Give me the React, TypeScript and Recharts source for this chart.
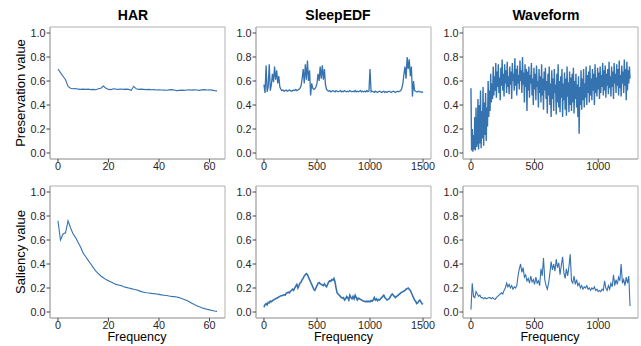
import React from 'react';
import { LineChart, Line, XAxis, YAxis, ReferenceArea } from 'recharts';

// HAR: one value per frequency bin (0..63)
const harPreservation = [
  0.70, 0.67, 0.64, 0.61, 0.555, 0.54, 0.535, 0.538, 0.532, 0.53,
  0.532, 0.53, 0.532, 0.528, 0.53, 0.527, 0.535, 0.54, 0.558, 0.54,
  0.53, 0.528, 0.535, 0.532, 0.53, 0.533, 0.53, 0.532, 0.53, 0.522,
  0.556, 0.535, 0.53, 0.532, 0.53, 0.528, 0.53, 0.527, 0.528, 0.525,
  0.527, 0.525, 0.524, 0.523, 0.526, 0.528, 0.525, 0.52, 0.522, 0.524,
  0.522, 0.525, 0.527, 0.524, 0.526, 0.525, 0.522, 0.526, 0.528, 0.525,
  0.527, 0.524, 0.52, 0.518,
];
const harSaliency = [
  0.76, 0.60, 0.65, 0.66, 0.76, 0.70, 0.65, 0.62, 0.58, 0.54,
  0.49, 0.46, 0.43, 0.40, 0.37, 0.34, 0.32, 0.30, 0.285, 0.27,
  0.26, 0.25, 0.24, 0.23, 0.225, 0.22, 0.21, 0.205, 0.20, 0.195,
  0.19, 0.185, 0.178, 0.17, 0.165, 0.16, 0.158, 0.155, 0.153, 0.15,
  0.147, 0.143, 0.14, 0.137, 0.133, 0.13, 0.128, 0.125, 0.12, 0.113,
  0.105, 0.095, 0.085, 0.073, 0.062, 0.052, 0.043, 0.035, 0.028, 0.023,
  0.018, 0.013, 0.008, 0.005,
];

// SleepEDF: read every 10 frequency bins (0..1500)
const sleepPreservation = [
  0.57, 0.50, 0.73, 0.51, 0.55, 0.74, 0.52, 0.57, 0.66, 0.59,
  0.72, 0.61, 0.69, 0.58, 0.64, 0.55, 0.53, 0.52, 0.525, 0.515,
  0.52, 0.525, 0.515, 0.52, 0.525, 0.52, 0.515, 0.52, 0.525, 0.52,
  0.53, 0.52, 0.525, 0.53, 0.54, 0.56, 0.62, 0.70, 0.58, 0.74,
  0.61, 0.77, 0.60, 0.69, 0.48, 0.58, 0.54, 0.53, 0.535, 0.55,
  0.58, 0.66, 0.60, 0.72, 0.62, 0.73, 0.61, 0.70, 0.57, 0.53,
  0.52, 0.515, 0.52, 0.51, 0.515, 0.52, 0.515, 0.51, 0.52, 0.515,
  0.51, 0.515, 0.52, 0.51, 0.515, 0.51, 0.52, 0.515, 0.51, 0.515,
  0.51, 0.52, 0.515, 0.51, 0.515, 0.51, 0.52, 0.51, 0.515, 0.51,
  0.515, 0.52, 0.51, 0.515, 0.51, 0.515, 0.51, 0.52, 0.51, 0.515,
  0.70, 0.51, 0.515, 0.51, 0.505, 0.515, 0.51, 0.505, 0.51, 0.515,
  0.51, 0.505, 0.51, 0.515, 0.505, 0.51, 0.505, 0.51, 0.515, 0.51,
  0.505, 0.51, 0.515, 0.51, 0.505, 0.51, 0.515, 0.51, 0.515, 0.52,
  0.54, 0.58, 0.66, 0.72, 0.62, 0.80, 0.70, 0.78, 0.64, 0.72,
  0.47, 0.60, 0.52, 0.515, 0.51, 0.51, 0.515, 0.51, 0.51, 0.505,
  0.51,
];
const sleepSaliency = [
  0.04, 0.06, 0.07, 0.06, 0.08, 0.075, 0.09, 0.085, 0.095, 0.10,
  0.105, 0.11, 0.115, 0.12, 0.125, 0.13, 0.135, 0.135, 0.14, 0.145,
  0.14, 0.155, 0.16, 0.165, 0.16, 0.175, 0.18, 0.19, 0.18, 0.20,
  0.215, 0.23, 0.20, 0.22, 0.24, 0.25, 0.27, 0.28, 0.30, 0.31,
  0.32, 0.31, 0.29, 0.27, 0.25, 0.23, 0.21, 0.19, 0.18, 0.20,
  0.22, 0.24, 0.245, 0.235, 0.23, 0.225, 0.22, 0.235, 0.22, 0.21,
  0.23, 0.25, 0.26, 0.255, 0.27, 0.265, 0.28, 0.25, 0.20, 0.16,
  0.15, 0.14, 0.13, 0.12, 0.115, 0.12, 0.10, 0.11, 0.13, 0.12,
  0.10, 0.14, 0.12, 0.11, 0.13, 0.11, 0.14, 0.12, 0.10, 0.115,
  0.11, 0.105, 0.10, 0.095, 0.09, 0.09, 0.085, 0.09, 0.085, 0.09,
  0.085, 0.095, 0.09, 0.10, 0.12, 0.10, 0.11, 0.095, 0.105, 0.10,
  0.11, 0.12, 0.13, 0.14, 0.12, 0.11, 0.10, 0.105, 0.11, 0.125,
  0.14, 0.15, 0.14, 0.13, 0.12, 0.13, 0.135, 0.145, 0.15, 0.16,
  0.165, 0.17, 0.175, 0.18, 0.19, 0.195, 0.20, 0.19, 0.18, 0.16,
  0.14, 0.12, 0.10, 0.09, 0.07, 0.075, 0.09, 0.10, 0.085, 0.07,
  0.065,
];

// Waveform: preservation read every 5 bins, saliency every 10 (0..1250)
const wavePreservation = [
  0.54, 0.02, 0.20, 0.01, 0.15, 0.03, 0.30, 0.02, 0.38, 0.05,
  0.10, 0.45, 0.03, 0.40, 0.08, 0.52, 0.04, 0.35, 0.12, 0.55,
  0.06, 0.42, 0.15, 0.50, 0.10, 0.38, 0.22, 0.60, 0.30, 0.52,
  0.35, 0.66, 0.42, 0.58, 0.45, 0.72, 0.48, 0.64, 0.52, 0.75,
  0.46, 0.68, 0.55, 0.74, 0.50, 0.63, 0.44, 0.71, 0.56, 0.78,
  0.52, 0.66, 0.47, 0.74, 0.58, 0.69, 0.50, 0.76, 0.55, 0.64,
  0.49, 0.72, 0.57, 0.68, 0.45, 0.75, 0.60, 0.66, 0.52, 0.79,
  0.56, 0.70, 0.48, 0.73, 0.58, 0.65, 0.53, 0.77, 0.60, 0.69,
  0.50, 0.80, 0.57, 0.67, 0.42, 0.74, 0.55, 0.70, 0.35, 0.68,
  0.52, 0.72, 0.46, 0.65, 0.58, 0.75, 0.48, 0.62, 0.40, 0.71,
  0.53, 0.66, 0.44, 0.73, 0.55, 0.60, 0.38, 0.70, 0.50, 0.64,
  0.42, 0.74, 0.48, 0.62, 0.36, 0.68, 0.52, 0.71, 0.45, 0.60,
  0.33, 0.66, 0.48, 0.72, 0.40, 0.58, 0.30, 0.69, 0.45, 0.62,
  0.35, 0.70, 0.50, 0.57, 0.32, 0.66, 0.42, 0.74, 0.38, 0.60,
  0.34, 0.64, 0.46, 0.70, 0.30, 0.58, 0.44, 0.67, 0.36, 0.62,
  0.31, 0.72, 0.47, 0.59, 0.34, 0.68, 0.40, 0.63, 0.35, 0.66,
  0.42, 0.71, 0.33, 0.60, 0.45, 0.66, 0.38, 0.57, 0.30, 0.64,
  0.16, 0.55, 0.40, 0.69, 0.36, 0.62, 0.44, 0.70, 0.38, 0.58,
  0.46, 0.72, 0.40, 0.65, 0.50, 0.68, 0.42, 0.73, 0.48, 0.62,
  0.44, 0.70, 0.52, 0.66, 0.40, 0.74, 0.50, 0.63, 0.47, 0.71,
  0.53, 0.67, 0.45, 0.72, 0.50, 0.65, 0.55, 0.75, 0.48, 0.69,
  0.52, 0.73, 0.46, 0.66, 0.56, 0.70, 0.49, 0.76, 0.54, 0.64,
  0.47, 0.72, 0.55, 0.68, 0.45, 0.75, 0.58, 0.66, 0.50, 0.74,
  0.56, 0.70, 0.48, 0.77, 0.54, 0.65, 0.47, 0.73, 0.58, 0.68,
  0.50, 0.78, 0.56, 0.70, 0.44, 0.76, 0.52, 0.69, 0.58, 0.72,
  0.62,
];
const waveSaliency = [
  0.02, 0.24, 0.13, 0.12, 0.17, 0.15, 0.13, 0.14, 0.12, 0.12,
  0.11, 0.12, 0.11, 0.115, 0.12, 0.12, 0.11, 0.12, 0.11, 0.105,
  0.12, 0.13, 0.14, 0.15, 0.16, 0.15, 0.18, 0.20, 0.24, 0.21,
  0.23, 0.20, 0.22, 0.19, 0.21, 0.20, 0.22, 0.30, 0.36, 0.40,
  0.33, 0.37, 0.29, 0.31, 0.26, 0.28, 0.24, 0.30, 0.25, 0.27,
  0.23, 0.29, 0.24, 0.26, 0.22, 0.36, 0.30, 0.45, 0.27, 0.22,
  0.19, 0.24, 0.32, 0.42, 0.35, 0.40, 0.34, 0.44, 0.37, 0.41,
  0.31, 0.39, 0.46, 0.33, 0.28, 0.36, 0.30, 0.38, 0.48, 0.26,
  0.24, 0.30, 0.23, 0.27, 0.22, 0.24, 0.20, 0.22, 0.19, 0.21,
  0.20, 0.22, 0.19, 0.20, 0.18, 0.20, 0.19, 0.21, 0.18, 0.19,
  0.17, 0.18, 0.17, 0.19, 0.18, 0.26, 0.20, 0.18, 0.22, 0.19,
  0.24, 0.21, 0.31, 0.22, 0.27, 0.23, 0.29, 0.26, 0.40, 0.24,
  0.27, 0.22, 0.29, 0.24, 0.30, 0.05,
];

const yTicks = [0, 0.2, 0.4, 0.6, 0.8, 1.0];
const harTicks = [0, 20, 40, 60];
const sleepTicks = [0, 500, 1000, 1500];
const waveTicks = [0, 500, 1000];

const toPoints = (vals: number[], step: number) => vals.map((v, i) => ({ f: i * step, v }));

const FONT = '"Liberation Sans", Arial, Helvetica, sans-serif';
const LINE = '#3572b0';
const SPINE = '#b0b0b0';
const TEXT = '#262626';

const BOX_W = 175;
const BOX_H = 132;
const AXIS_W = 30;
const AXIS_H = 20;
const PAD = 4;
const Y_DOMAIN: [number, number] = [-0.05, 1.05];

type PanelProps = {
  data: { f: number; v: number }[];
  xDomain: [number, number];
  xTicks: number[];
  left: number;
  top: number;
  lineWidth?: number;
};

const tickStyle = { fontSize: 10.8, fill: TEXT, fontFamily: FONT };

const Panel = ({ data, xDomain, xTicks, left, top, lineWidth = 1.1 }: PanelProps) => (
  <div style={{ position: 'absolute', left: left - AXIS_W, top: top - PAD }}>
    <LineChart
      width={AXIS_W + BOX_W + PAD}
      height={PAD + BOX_H + AXIS_H}
      data={data}
      margin={{ top: PAD, right: PAD, left: 0, bottom: 0 }}
    >
      <XAxis
        dataKey="f"
        type="number"
        domain={xDomain}
        ticks={xTicks}
        allowDataOverflow
        height={AXIS_H}
        tickSize={3.5}
        tickMargin={0}
        stroke={SPINE}
        tickLine={{ stroke: '#444' }}
        tick={tickStyle}
      />
      <YAxis
        type="number"
        domain={Y_DOMAIN}
        ticks={yTicks}
        allowDataOverflow
        width={AXIS_W}
        tickSize={3.5}
        tickMargin={1}
        stroke={SPINE}
        tickLine={{ stroke: '#444' }}
        tick={tickStyle}
        tickFormatter={(v: number) => v.toFixed(1)}
      />
      <ReferenceArea
        x1={xDomain[0]}
        x2={xDomain[1]}
        y1={Y_DOMAIN[0]}
        y2={Y_DOMAIN[1]}
        fill="none"
        stroke={SPINE}
        strokeWidth={1}
      />
      <Line
        type="linear"
        dataKey="v"
        dot={false}
        stroke={LINE}
        strokeWidth={lineWidth}
        isAnimationActive={false}
      />
    </LineChart>
  </div>
);

const harDomain: [number, number] = [-3.15, 66.15];
const sleepDomain: [number, number] = [-75, 1575];
const waveDomain: [number, number] = [-62.5, 1312.5];

export default function App() {
  return (
    <div style={{ position: 'absolute', left: 0, top: 0, width: 641, height: 346, background: '#fff', fontFamily: FONT }}>
      <Panel data={toPoints(harPreservation, 1)} xDomain={harDomain} xTicks={harTicks} left={50} top={27} />
      <Panel data={toPoints(sleepPreservation, 10)} xDomain={sleepDomain} xTicks={sleepTicks} left={256} top={27} lineWidth={1.3} />
      <Panel data={toPoints(wavePreservation, 5)} xDomain={waveDomain} xTicks={waveTicks} left={463} top={27} lineWidth={1.4} />
      <Panel data={toPoints(harSaliency, 1)} xDomain={harDomain} xTicks={harTicks} left={50} top={186} />
      <Panel data={toPoints(sleepSaliency, 10)} xDomain={sleepDomain} xTicks={sleepTicks} left={256} top={186} lineWidth={1.6} />
      <Panel data={toPoints(waveSaliency, 10)} xDomain={waveDomain} xTicks={waveTicks} left={463} top={186} />
      <svg width={641} height={346} style={{ position: 'absolute', left: 0, top: 0, pointerEvents: 'none' }}>
        <g fontFamily={FONT} fill="#000">
          <text x={133} y={20} fontSize={14} fontWeight="bold" textAnchor="middle">HAR</text>
          <text x={338} y={20} fontSize={14} fontWeight="bold" textAnchor="middle">SleepEDF</text>
          <text x={546} y={20} fontSize={14} fontWeight="bold" textAnchor="middle">Waveform</text>
          <text x={24.5} y={93} fontSize={13} textAnchor="middle" transform="rotate(-90 24.5 93)">Preservation value</text>
          <text x={24.5} y={252} fontSize={13} textAnchor="middle" transform="rotate(-90 24.5 252)">Saliency value</text>
          <text x={137} y={341} fontSize={12.5} textAnchor="middle">Frequency</text>
          <text x={343.5} y={341} fontSize={12.5} textAnchor="middle">Frequency</text>
          <text x={550} y={341} fontSize={12.5} textAnchor="middle">Frequency</text>
        </g>
      </svg>
    </div>
  );
}
